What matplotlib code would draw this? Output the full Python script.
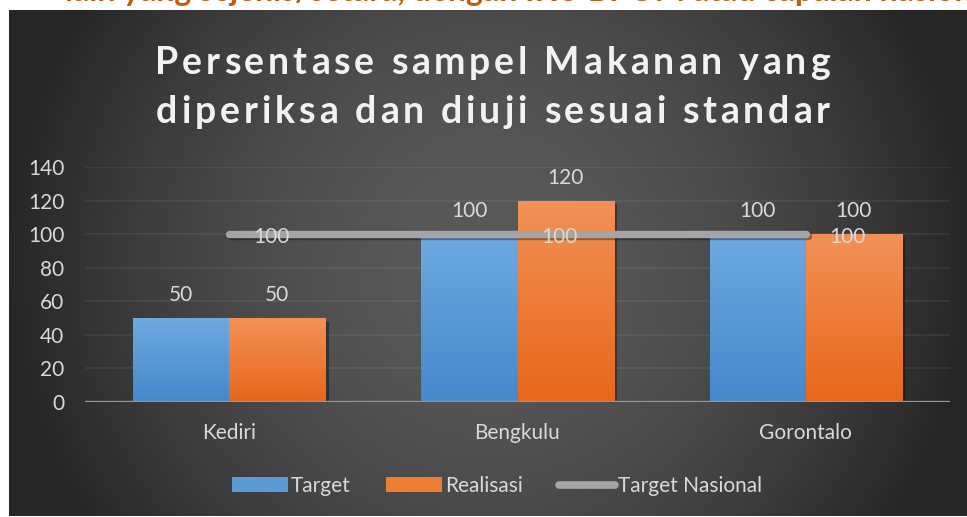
import numpy as np
import matplotlib
matplotlib.use("Agg")
import matplotlib.pyplot as plt
from matplotlib import font_manager, patheffects as pe
from matplotlib.ft2font import FT2Font
from matplotlib.patches import Patch
from matplotlib.lines import Line2D

# ---- data ----
categories = ["Kediri", "Bengkulu", "Gorontalo"]
target = [50, 100, 100]
realisasi = [50, 120, 100]
target_nasional = [100, 100, 100]
y_ticks = [0, 20, 40, 60, 80, 100, 120, 140]
series_names = ["Target", "Realisasi", "Target Nasional"]
title_lines = ["Persentase sampel Makanan yang",
               "diperiksa dan diuji sesuai standar"]
header_text = "lain yang sejenis/setara, dengan IKU BPOM atau capaian nasional"

# ---- styling ----
FONT = "Lato"
LABEL = "#d9d9d9"
FS = 15
BLUE_TOP, BLUE_BOT = "#6ea9e0", "#4588cc"
ORNG_TOP, ORNG_BOT = "#f29157", "#e8671a"
LINE_C = "#a5a5a5"

W, H = 967, 517
fig = plt.figure(figsize=(W / 100, H / 100), dpi=100, facecolor="white")


def px_box(x0, y0, x1, y1):
    """Pixel box (top-left origin) -> figure rect."""
    return [x0 / W, 1 - y1 / H, (x1 - x0) / W, (y1 - y0) / H]


# dark panel with a soft radial glow
px0, py0, px1, py1 = 9, 10, W, 516
bg = fig.add_axes(px_box(px0, py0, px1, py1))
bg.set_axis_off()
pw, ph = px1 - px0, py1 - py0
yy, xx = np.mgrid[0:ph, 0:pw]
r = np.hypot(xx - 480, yy - 250) / 480.0
t = np.clip(1 - r ** 1.8, 0, 1)
edge, centre = 0.15, 0.35
shade = edge + (centre - edge) * t
bg.imshow(np.dstack([shade] * 3), extent=[0, 1, 0, 1], aspect="auto",
          origin="upper", interpolation="bilinear")
bg.set_xlim(0, 1)
bg.set_ylim(0, 1)

# orange running text of the surrounding document, partly hidden above
fig.text(65 / W, 1 - 1 / H, header_text, color="#c55a11", fontsize=23,
         fontweight="bold", family=FONT, va="baseline", ha="left", zorder=0)

# ---- plot area ----
ax = fig.add_axes(px_box(85, 167, 950, 402))
ax.set_facecolor("none")
for s in ax.spines.values():
    s.set_visible(False)

x = np.arange(len(categories))
w = 1 / 3
bars_t = ax.bar(x - w / 2, target, w, color=BLUE_BOT, zorder=3)
bars_r = ax.bar(x + w / 2, realisasi, w, color=ORNG_BOT, zorder=3)

shadow = [pe.SimplePatchShadow(offset=(2.5, -2.5), shadow_rgbFace="black",
                               alpha=0.35), pe.Normal()]


def grad(top, bot, n=64):
    c0 = np.array(matplotlib.colors.to_rgb(top))
    c1 = np.array(matplotlib.colors.to_rgb(bot))
    f = np.linspace(0, 1, n)[:, None]
    return (c0 * (1 - f) + c1 * f)[:, None, :]


for bars, (ct, cb) in ((bars_t, (BLUE_TOP, BLUE_BOT)),
                       (bars_r, (ORNG_TOP, ORNG_BOT))):
    for b in bars:
        b.set_path_effects(shadow)
        x0, y0 = b.get_x(), b.get_y()
        x1, y1 = x0 + b.get_width(), y0 + b.get_height()
        im = ax.imshow(grad(ct, cb), extent=[x0, x1, y0, y1], origin="upper",
                       aspect="auto", zorder=3.1, interpolation="bilinear")
        im.set_clip_path(b)

ax.plot(x, target_nasional, color=LINE_C, lw=5.3, solid_capstyle="round",
        zorder=4,
        path_effects=[pe.SimpleLineShadow(offset=(1.5, -1.5), alpha=0.35),
                      pe.Normal()])

# baseline
ax.axhline(0, color="#959595", lw=2.4, zorder=5)

ax.set_xlim(-0.5, len(categories) - 0.5)
ax.set_ylim(0, 140)
ax.set_yticks(y_ticks)
ax.set_xticks(x)
ax.set_xticklabels(categories)
ax.set_axisbelow(True)
ax.tick_params(axis="both", length=0, labelcolor=LABEL, labelsize=FS)
ax.tick_params(axis="x", pad=15)
ax.tick_params(axis="y", pad=15, gridOn=True, grid_color="white",
               grid_alpha=0.07, grid_linewidth=1.2)
for gl in ax.get_ygridlines():
    gl.set_color("white")
    gl.set_alpha(0.07)
    gl.set_linewidth(1.2)
for lab in ax.get_xticklabels() + ax.get_yticklabels():
    lab.set_family(FONT)

# data labels
lab_kw = dict(textcoords="offset points", color=LABEL, fontsize=FS,
              family=FONT, zorder=6)
for xi, v in zip(x - w / 2, target):
    ax.annotate(f"{v}", (xi, v), xytext=(0, 12), ha="center", va="baseline",
                **lab_kw)
for xi, v in zip(x + w / 2, realisasi):
    ax.annotate(f"{v}", (xi, v), xytext=(0, 12), ha="center", va="baseline",
                **lab_kw)
for xi, v in zip(x, target_nasional):
    ax.annotate(f"{v}", (xi, v), xytext=(17, -2), ha="left", va="center",
                **lab_kw)

# ---- title with wide letter spacing ----
fp_title = font_manager.FontProperties(family=FONT, weight="bold", size=27)
renderer = fig.canvas.get_renderer()


def spaced_line(s, x_left, x_right, y_base, fp, color):
    ft = FT2Font(font_manager.findfont(fp), hinting_factor=1)
    ft.set_size(fp.get_size_in_points(), fig.dpi)
    adv = np.array([ft.load_char(ord(c)).linearHoriAdvance / 65536.0
                    for c in s])
    probe = fig.text(0, 0, s, fontproperties=fp)
    natural = probe.get_window_extent(renderer).width
    probe.remove()
    if adv.sum() > 0:
        adv *= natural / adv.sum()
    track = (x_right - x_left - adv.sum()) / (len(s) - 1)
    xp = x_left
    for c, a in zip(s, adv):
        if c != " ":
            fig.text(xp / W, 1 - y_base / H, c, fontproperties=fp,
                     color=color, ha="left", va="baseline")
        xp += a + track


spaced_line(title_lines[0], 155, 830, 74, fp_title, "#f2f2f2")
spaced_line(title_lines[1], 156, 830, 123, fp_title, "#f2f2f2")

# ---- legend ----
handles = [Patch(facecolor="#5b9bd5"), Patch(facecolor="#ed7d31"),
           Line2D([], [], color=LINE_C, lw=5.5, solid_capstyle="round")]
leg = fig.legend(handles, series_names, loc="center",
                 bbox_to_anchor=(497 / W, 1 - 486 / H), ncol=3,
                 frameon=False, handlelength=2.7, handleheight=0.75,
                 handletextpad=0.15, columnspacing=1.7,
                 prop=font_manager.FontProperties(family=FONT, size=FS))
for txt in leg.get_texts():
    txt.set_color(LABEL)

fig.savefig("out.png", dpi=100, facecolor="white")
